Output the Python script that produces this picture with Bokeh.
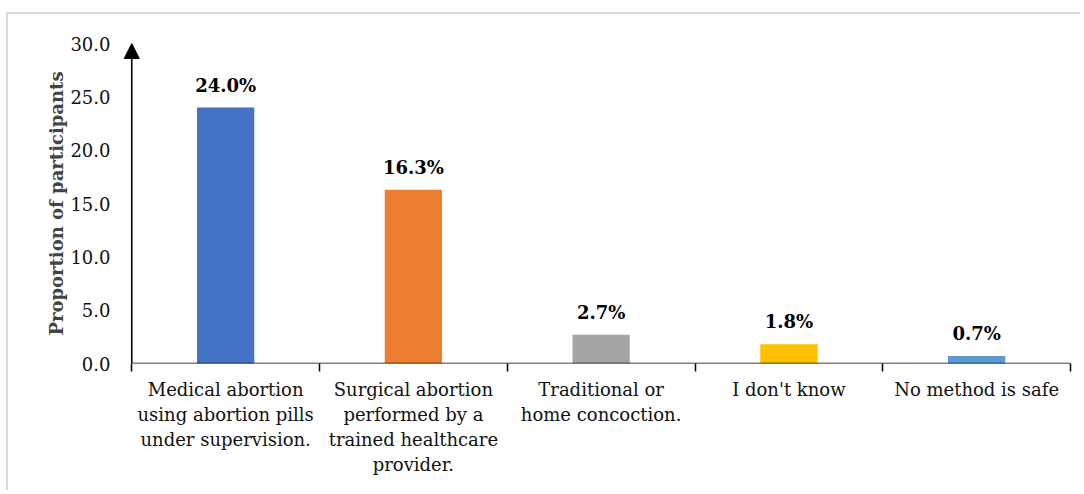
from bokeh.plotting import figure
from bokeh.models import Range1d, FixedTicker, ColumnDataSource, Arrow, NormalHead
from bokeh.core.properties import value
from bokeh.embed import file_html
from bokeh.resources import INLINE

categories = [
    "Medical abortion\nusing abortion pills\nunder supervision.",
    "Surgical abortion\nperformed by a\ntrained healthcare\nprovider.",
    "Traditional or\nhome concoction.",
    "I don't know",
    "No method is safe",
]
values = [24.0, 16.3, 2.7, 1.8, 0.7]
labels = ["24.0%", "16.3%", "2.7%", "1.8%", "0.7%"]
colors = ["#4472C4", "#ED7D31", "#A5A5A5", "#FFC000", "#5B9BD5"]
y_ticks = [0, 5, 10, 15, 20, 25, 30]

FONT = "DejaVu Serif"
FS = "18px"

W, H = 1074, 478
p = figure(width=W, height=H, output_backend="svg", toolbar_location=None,
           x_range=Range1d(-0.06, 5), y_range=Range1d(0, 30),
           min_border_left=112, min_border_right=12, min_border_top=29,
           min_border_bottom=129)
p.outline_line_color = None
p.grid.grid_line_color = None
p.background_fill_color = "white"
p.styles = {"border-top": "2px solid #d9d9d9", "border-left": "2px solid #d9d9d9",
            "margin-top": "12px", "margin-left": "6px"}

n = len(values)
xs = [i + 0.5 for i in range(n)]
src = ColumnDataSource(dict(x=xs, top=values, color=colors, label=labels))
p.vbar(x="x", top="top", bottom=0, width=0.305, fill_color="color",
       line_color=None, source=src)
p.text(x="x", y="top", text="label", source=src, y_offset=-12,
       text_align="center", text_baseline="bottom",
       text_font=value(FONT), text_font_style="bold", text_font_size=FS,
       text_color="black")

# axis lines (y axis with arrow head)
p.segment(x0=[0, 0], y0=[0, 0], x1=[n, 0], y1=[0, 29.3],
          line_color="black", line_width=1.6)
p.add_layout(Arrow(x_start=0, y_start=28.5, x_end=0, y_end=30,
                   line_alpha=0,
                   end=NormalHead(size=15, fill_color="black", line_color="black")))

# x axis
xa = p.xaxis[0]
xa.ticker = FixedTicker(ticks=xs, minor_ticks=list(range(n + 1)))
xa.major_label_overrides = {x: c for x, c in zip(xs, categories)}
xa.major_tick_line_color = None
xa.major_tick_out = 0
xa.minor_tick_line_color = "black"
xa.minor_tick_line_width = 1.5
xa.minor_tick_out = 8
xa.minor_tick_in = 0
xa.axis_line_color = None
xa.major_label_text_font = FONT
xa.major_label_text_font_size = FS
xa.major_label_text_color = "#111111"
xa.major_label_standoff = 7

# y axis
ya = p.yaxis[0]
ya.ticker = FixedTicker(ticks=y_ticks)
ya.major_label_overrides = {t: f"{t:.1f}" for t in y_ticks}
ya.major_tick_line_color = None
ya.major_tick_out = 0
ya.minor_tick_line_color = None
ya.axis_line_color = None
ya.major_label_text_font = FONT
ya.major_label_text_font_size = FS
ya.major_label_text_color = "#111111"
ya.major_label_standoff = 10
ya.axis_label = "Proportion of participants"
ya.axis_label_text_font = FONT
ya.axis_label_text_font_style = "bold"
ya.axis_label_text_font_size = FS
ya.axis_label_standoff = 0

open("out.html", "w").write(file_html(p, INLINE))
